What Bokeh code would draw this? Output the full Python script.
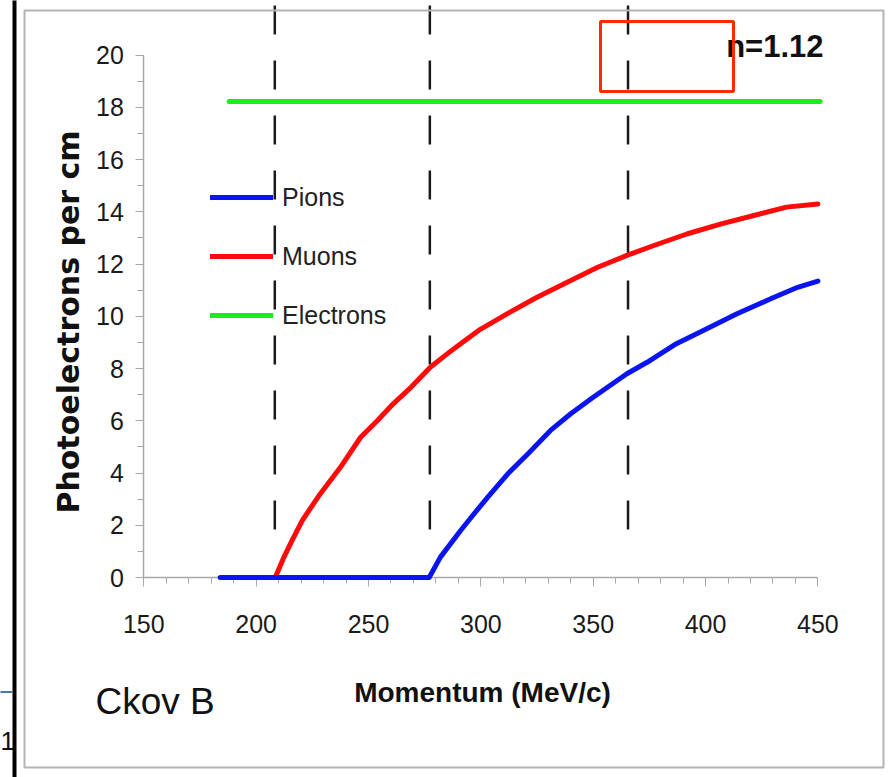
import math
from bokeh.plotting import figure
from bokeh.models import Range1d, FixedTicker, Legend, LegendItem, Label, BoxAnnotation
from bokeh.embed import file_html
from bokeh.resources import INLINE

# ---------------- data ----------------
pion_p = [184, 277, 282, 291, 297, 303, 312, 321, 331, 340, 350, 365, 374, 387, 399, 414, 429, 441, 450]
pion_pe = [0, 0, 0.78, 1.80, 2.44, 3.07, 3.97, 4.74, 5.63, 6.27, 6.90, 7.80, 8.24, 8.95, 9.46, 10.10, 10.67, 11.11, 11.35]

muon_p = [188, 208.5, 212, 216, 220.5, 224, 228.5, 237.5, 246.5, 254, 261, 269, 277.5, 285, 291, 299,
          313, 325, 340, 352, 365, 377, 392, 407, 421.5, 436, 450]
muon_pe = [0, 0, 0.71, 1.42, 2.18, 2.63, 3.20, 4.22, 5.37, 6.01, 6.65, 7.29, 8.05, 8.56, 8.95, 9.46,
           10.16, 10.73, 11.37, 11.88, 12.33, 12.71, 13.16, 13.54, 13.86, 14.18, 14.30]

electron_p = [188, 451]
electron_pe = [18.22, 18.22]

thresholds = [208.3, 277.3, 365.5]      # Cherenkov thresholds (dashed)
threshold_top = [21.9, 21.9, 21.9]
threshold_bottom = [1.8, 1.8, 1.8]

x_ticks = [150, 200, 250, 300, 350, 400, 450]
x_minor = list(range(150, 451, 10))
y_ticks = list(range(0, 21, 2))
y_minor = list(range(0, 21, 1))

series_names = ["Pions", "Muons", "Electrons"]
x_title = "Momentum (MeV/c)"
y_title = "Photoelectrons per cm"
index_label = "n=1.12"
panel_label = "Ckov B"

# ---------------- layout: the frame covers the whole canvas ----------------
W, H = 891, 777
X0 = 150 - 143.3 / 2.247
X1 = X0 + W / 2.247
Y1 = 577 / 26.12
Y0 = Y1 - H / 26.12

def px_x(px):
    return X0 + px * (X1 - X0) / W

def px_y(py):
    return Y1 - py * (Y1 - Y0) / H

p = figure(width=W, height=H, x_range=Range1d(X0, X1), y_range=Range1d(Y0, Y1),
           output_backend="svg", toolbar_location=None,
           min_border_left=0, min_border_right=0, min_border_top=0, min_border_bottom=0)
p.outline_line_color = None
p.grid.visible = False
p.background_fill_color = "white"
p.border_fill_color = "white"

SANS = "Liberation Sans"
GRAY = "#a8a8a8"

xa = p.xaxis[0]
xa.fixed_location = 0
xa.bounds = (150, 450)
xa.ticker = FixedTicker(ticks=x_ticks, minor_ticks=x_minor)
xa.axis_line_color = GRAY
xa.axis_line_width = 1.5
xa.major_tick_line_color = GRAY
xa.minor_tick_line_color = GRAY
xa.major_tick_in = 0
xa.major_tick_out = 9
xa.minor_tick_in = 0
xa.minor_tick_out = 6
xa.major_label_text_font = SANS
xa.major_label_text_font_size = "25px"
xa.major_label_text_color = "#1a1a1a"
xa.major_label_standoff = 28

ya = p.yaxis[0]
ya.fixed_location = 150
ya.bounds = (0, 20)
ya.ticker = FixedTicker(ticks=y_ticks, minor_ticks=y_minor)
ya.axis_line_color = GRAY
ya.axis_line_width = 1.5
ya.major_tick_line_color = GRAY
ya.minor_tick_line_color = GRAY
ya.major_tick_in = 0
ya.major_tick_out = 8
ya.minor_tick_in = 0
ya.minor_tick_out = 6
ya.major_label_text_font = SANS
ya.major_label_text_font_size = "25px"
ya.major_label_text_color = "#1a1a1a"
ya.major_label_standoff = 12

# axis titles
p.add_layout(Label(x=px_x(482), y=px_y(692), text=x_title, text_align="center", text_baseline="middle",
                   text_font=SANS, text_font_style="bold", text_font_size="28px", text_color="#111111"))
p.add_layout(Label(x=px_x(67.5), y=px_y(321.5), text=y_title, angle=math.pi / 2,
                   text_align="center", text_baseline="middle",
                   text_font="DejaVu Sans", text_font_style="bold", text_font_size="30px", text_color="#111111"))

# threshold dashed lines
p.segment(x0=thresholds, y0=threshold_top, x1=thresholds, y1=threshold_bottom,
          line_color="#1a1a1a", line_width=2.5, line_dash="29 26")

r_e = p.line(electron_p, electron_pe, line_color="#1aee1a", line_width=5, line_cap="round")
r_mu = p.line(muon_p, muon_pe, line_color="#ff0a0a", line_width=5, line_cap="round", line_join="round")
r_pi = p.line(pion_p, pion_pe, line_color="#0a14f0", line_width=5, line_cap="round", line_join="round")
for r in (r_e, r_mu, r_pi):
    r.level = "annotation"

legend = Legend(items=[LegendItem(label=series_names[0], renderers=[r_pi]),
                       LegendItem(label=series_names[1], renderers=[r_mu]),
                       LegendItem(label=series_names[2], renderers=[r_e])],
                location=(210, H - 330), orientation="vertical",
                glyph_width=63, glyph_height=30, label_height=30, spacing=29,
                padding=0, margin=0, label_standoff=9,
                border_line_alpha=0, background_fill_alpha=0,
                label_text_font=SANS, label_text_font_size="25px", label_text_color="#222222",
                label_text_baseline="middle")
p.add_layout(legend)

# index of refraction label and red highlight box
p.add_layout(Label(x=px_x(823), y=px_y(46), text=index_label, text_align="right", text_baseline="middle",
                   text_font=SANS, text_font_style="bold", text_font_size="31px", text_color="#111111"))
p.add_layout(BoxAnnotation(left=px_x(600), right=px_x(733), top=px_y(21), bottom=px_y(91),
                           fill_alpha=0, line_color="#ff2a00", line_alpha=1, line_width=3, level="overlay"))

# slide decorations
p.add_layout(BoxAnnotation(left=px_x(24), right=px_x(883), top=px_y(10), bottom=px_y(767),
                           fill_alpha=0, line_color="#b4b4b4", line_alpha=1, line_width=2, level="overlay"))
p.add_layout(BoxAnnotation(left=px_x(12), right=px_x(16), top=px_y(-5), bottom=px_y(782),
                           fill_color="black", fill_alpha=1, line_alpha=0, level="overlay"))
p.add_layout(BoxAnnotation(left=px_x(-5), right=px_x(12), top=px_y(690.5), bottom=px_y(692.5),
                           fill_color="#4a78b0", fill_alpha=1, line_alpha=0, level="overlay"))
p.add_layout(Label(x=px_x(0), y=px_y(740), text="1", text_align="left", text_baseline="middle",
                   text_font=SANS, text_font_size="26px", text_color="#111111"))
p.add_layout(Label(x=px_x(95), y=px_y(701), text=panel_label, text_align="left", text_baseline="middle",
                   text_font=SANS, text_font_size="37px", text_color="#111111"))

open("out.html", "w").write(file_html(p, INLINE))
